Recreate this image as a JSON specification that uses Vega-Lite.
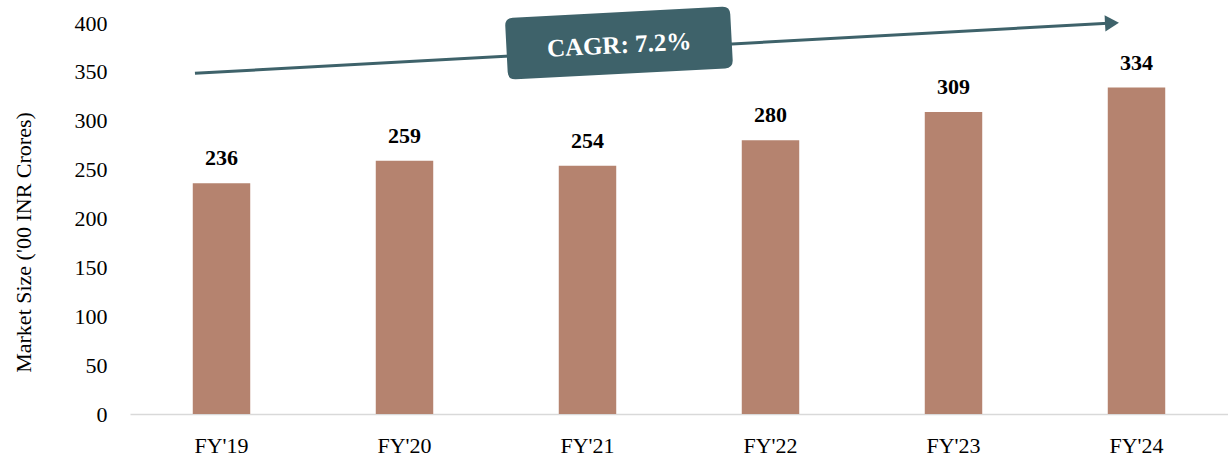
{
  "$schema": "https://vega.github.io/schema/vega-lite/v6.json",
  "width": 1098,
  "height": 391,
  "autosize": "none",
  "padding": {"left": 130, "top": 23, "right": 0, "bottom": 45},
  "background": "white",
  "config": {
    "view": {"stroke": null},
    "font": "Liberation Serif",
    "axis": {"grid": false, "ticks": false, "tickSize": 0, "labelFont": "Liberation Serif", "titleFont": "Liberation Serif", "labelColor": "#000000", "titleColor": "#000000"}
  },
  "datasets": {
    "bars": [
      {"year": "FY'19", "size": 236},
      {"year": "FY'20", "size": 259},
      {"year": "FY'21", "size": 254},
      {"year": "FY'22", "size": 280},
      {"year": "FY'23", "size": 309},
      {"year": "FY'24", "size": 334}
    ],
    "arrow": [
      {"pos": 0.355, "val": 348.5},
      {"pos": 5.344, "val": 399.7}
    ],
    "head": [
      {"pos": 5.366, "val": 400.0}
    ],
    "badge": [
      {"pos": 2.672, "val": 379.5, "label": "CAGR: 7.2%"}
    ]
  },
  "layer": [
    {
      "data": {"name": "bars"},
      "mark": {"type": "bar", "color": "#B5836F"},
      "encoding": {
        "x": {
          "field": "year", "type": "nominal", "sort": null,
          "scale": {"paddingInner": 0.686, "paddingOuter": 0.343},
          "axis": {"title": null, "labelAngle": 0, "labelFontSize": 22, "labelBaseline": "alphabetic", "labelPadding": 38, "domainColor": "#d9d9d9", "domainWidth": 1.5}
        },
        "y": {
          "field": "size", "type": "quantitative",
          "scale": {"domain": [0, 400], "nice": false},
          "axis": {"title": "Market Size ('00 INR Crores)", "values": [0, 50, 100, 150, 200, 250, 300, 350, 400], "domain": false, "labelFontSize": 22, "labelPadding": 23, "titleFontSize": 22, "titleFontWeight": "normal", "titleX": -100, "titleY": 219, "titleBaseline": "alphabetic", "titleAngle": -90, "titleAlign": "center"}
        }
      }
    },
    {
      "data": {"name": "bars"},
      "mark": {"type": "text", "fontSize": 22, "fontWeight": "bold", "baseline": "alphabetic", "dy": -18, "color": "#000000"},
      "encoding": {
        "x": {"field": "year", "type": "nominal", "sort": null, "axis": null},
        "y": {"field": "size", "type": "quantitative"},
        "text": {"field": "size", "type": "quantitative"}
      }
    },
    {
      "data": {"name": "arrow"},
      "mark": {"type": "line", "color": "#3E626A", "strokeWidth": 3},
      "encoding": {
        "x": {"field": "pos", "type": "quantitative", "scale": {"domain": [0, 6], "nice": false, "zero": false}, "axis": null},
        "y": {"field": "val", "type": "quantitative"}
      }
    },
    {
      "data": {"name": "head"},
      "mark": {"type": "point", "shape": "triangle-right", "filled": true, "opacity": 1, "color": "#3E626A", "size": 260, "angle": 357},
      "encoding": {
        "x": {"field": "pos", "type": "quantitative", "scale": {"domain": [0, 6], "nice": false, "zero": false}, "axis": null},
        "y": {"field": "val", "type": "quantitative"}
      }
    },
    {
      "data": {"name": "badge"},
      "mark": {"type": "point", "shape": "M-0.93,-0.274 L0.93,-0.274 Q1,-0.274 1,-0.204 L1,0.204 Q1,0.274 0.93,0.274 L-0.93,0.274 Q-1,0.274 -1,0.204 L-1,-0.204 Q-1,-0.274 -0.93,-0.274 Z", "filled": true, "opacity": 1, "color": "#3E626A", "strokeWidth": 0, "size": 50760, "angle": 357},
      "encoding": {
        "x": {"field": "pos", "type": "quantitative", "scale": {"domain": [0, 6], "nice": false, "zero": false}, "axis": null},
        "y": {"field": "val", "type": "quantitative"}
      }
    },
    {
      "data": {"name": "badge"},
      "mark": {"type": "text", "fontSize": 25, "fontWeight": "bold", "color": "#ffffff", "baseline": "middle", "align": "center", "angle": 357, "dy": 2},
      "encoding": {
        "x": {"field": "pos", "type": "quantitative", "scale": {"domain": [0, 6], "nice": false, "zero": false}, "axis": null},
        "y": {"field": "val", "type": "quantitative"},
        "text": {"field": "label", "type": "nominal"}
      }
    }
  ],
  "resolve": {"scale": {"x": "independent"}, "axis": {"x": "independent"}}
}
